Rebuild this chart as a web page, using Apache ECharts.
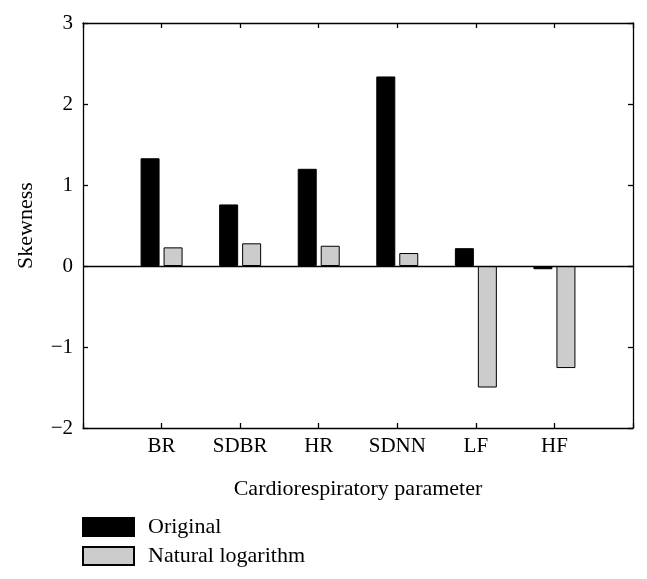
<!DOCTYPE html>
<html>
<head>
<meta charset="utf-8">
<script src="https://cdn.jsdelivr.net/npm/echarts@6/dist/echarts.min.js"></script>
<style>html,body{margin:0;padding:0;background:#fff;}#c{width:647px;height:579px;}</style>
</head>
<body>
<div id="c"></div>
<script>
const categories = ['', 'BR', 'SDBR', 'HR', 'SDNN', 'LF', 'HF', ''];
const original = [null, 1.33, 0.76, 1.20, 2.34, 0.22, -0.04, null];
const naturalLog = [null, 0.23, 0.28, 0.25, 0.16, -1.50, -1.26, null];
const yTicks = [-2, -1, 0, 1, 2, 3];

const FONT = '"Liberation Serif", "DejaVu Serif", serif';
const chart = echarts.init(document.getElementById('c'));
chart.setOption({
  animation: false,
  backgroundColor: '#fff',
  textStyle: { fontFamily: FONT, color: '#000' },
  grid: { left: 83, right: 14, top: 23, bottom: 151 },
  legend: {
    orient: 'vertical', left: 82, top: 516, padding: 0,
    itemWidth: 51, itemHeight: 18, itemGap: 7,
    textStyle: { fontFamily: FONT, fontSize: 22, lineHeight: 22, color: '#000', padding: [0, 0, 0, 9] },
    data: [
      { name: 'Original', icon: 'rect' },
      { name: 'Natural logarithm', icon: 'rect' }
    ]
  },
  xAxis: [{
    type: 'category', data: categories, boundaryGap: false, position: 'bottom',
    axisLine: { onZero: false, lineStyle: { color: '#000', width: 1.3 } },
    axisTick: { inside: true, length: 5, lineStyle: { color: '#000', width: 1.3 } },
    axisLabel: { fontFamily: FONT, fontSize: 21, color: '#000', margin: 8 },
    name: 'Cardiorespiratory parameter', nameLocation: 'middle', nameGap: 50,
    nameTextStyle: { fontFamily: FONT, fontSize: 22, color: '#000' },
    splitLine: { show: false }
  }, {
    type: 'category', data: categories, boundaryGap: false, position: 'top',
    axisLine: { onZero: false, lineStyle: { color: '#000', width: 1.3 } },
    axisTick: { inside: true, length: 5, lineStyle: { color: '#000', width: 1.3 } },
    axisLabel: { show: false }, splitLine: { show: false }
  }],
  yAxis: [{
    type: 'value', min: -2, max: 3, interval: 1, position: 'left',
    axisLine: { show: true, onZero: false, lineStyle: { color: '#000', width: 1.3 } },
    axisTick: { show: true, inside: true, length: 5, lineStyle: { color: '#000', width: 1.3 } },
    axisLabel: { fontFamily: FONT, fontSize: 21, color: '#000', margin: 10,
      formatter: v => yTicks.includes(v) ? String(v).replace('-', '\u2212') : '' },
    name: 'Skewness', nameLocation: 'middle', nameGap: 46, nameRotate: 90,
    nameTextStyle: { fontFamily: FONT, fontSize: 22, color: '#000' },
    splitLine: { show: false }
  }, {
    type: 'value', min: -2, max: 3, interval: 1, position: 'right',
    axisLine: { show: true, onZero: false, lineStyle: { color: '#000', width: 1.3 } },
    axisTick: { show: true, inside: true, length: 5, lineStyle: { color: '#000', width: 1.3 } },
    axisLabel: { show: false }, splitLine: { show: false }
  }],
  series: [{
    name: 'Original', type: 'bar', data: original, barWidth: 19, barGap: '21%',
    itemStyle: { color: '#000', borderColor: '#000', borderWidth: 1 },
    markLine: {
      silent: true, symbol: 'none', label: { show: false },
      lineStyle: { color: '#000', width: 1.3, type: 'solid' },
      data: [{ yAxis: 0 }]
    }
  }, {
    name: 'Natural logarithm', type: 'bar', data: naturalLog, barWidth: 19,
    itemStyle: { color: '#cccccc', borderColor: '#000', borderWidth: 1 }
  }]
});
</script>
</body>
</html>
